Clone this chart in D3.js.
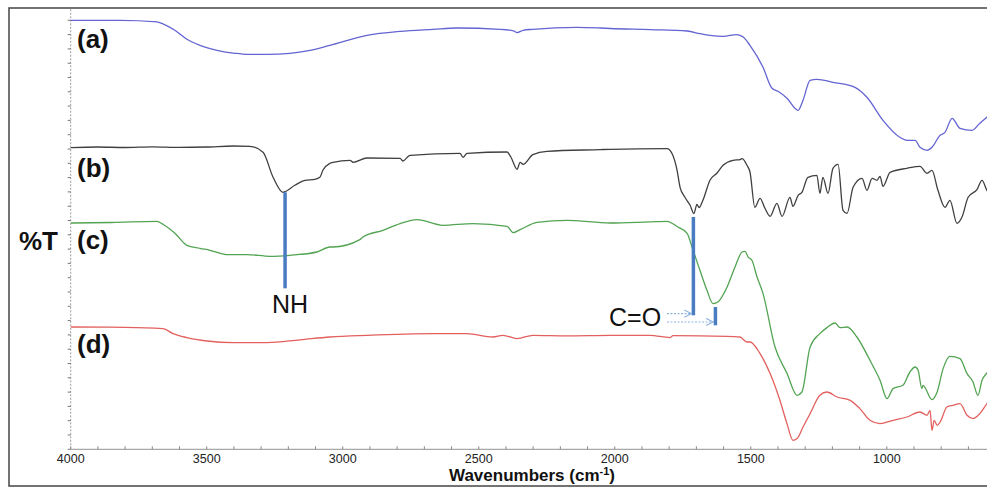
<!DOCTYPE html>
<html>
<head>
<meta charset="utf-8">
<script src="https://cdn.jsdelivr.net/npm/d3@7"></script>
<style>
  body { margin: 0; background: #fff; }
  svg { display: block; }
</style>
</head>
<body>
<svg id="chart" width="987" height="487"></svg>
<script>
// FTIR spectra, offset transmittance (arbitrary units) against wavenumber (cm-1)
const spectrumA = [
  [4000,429],[3819,429],[3683,427.5],[3661,425.5],[3617,419],[3573,410],[3525,404],[3462,399],
  [3396,396],[3352,395],[3278,395],[3194,396],[3120,399],[3047,404],[2911,414],[2789,418],
  [2668,420],[2580,421.3],[2422,420],[2372,418.5],[2359,416.7],[2337,419],[2301,420],[2139,422],
  [2054,421.3],[2017,420.8],[1870,419.7],[1734,418.3],[1687,415.7],[1650,414],[1602,413],
  [1551,414.7],[1540,414],[1529,412.5],[1503,404],[1455,382],[1422,361],[1400,358],[1367,351],
  [1326,339],[1308,349],[1282,369],[1257,370],[1198,367],[1117,362],[1073,352],[1014,329],
  [952,312],[926,309],[896,309],[878,302],[852,299],[834,302],[804,314],[786,317],[760,331],
  [731,321],[687,319],[658,326],[620,335]
];
const spectrumB = [
  [4000,301.7],[3900,302.3],[3800,301.8],[3700,302.5],[3600,301.9],[3500,302.3],[3403,303.3],
  [3341,303],[3293,297],[3256,272],[3220,257],[3176,264],[3139,269],[3102,270],[3084,272],
  [3073,279],[3047,286],[3036,287],[2973,289],[2962,287],[2911,291.3],[2789,291],[2779,288.3],
  [2753,294],[2569,296],[2558,292],[2543,296],[2396,297.3],[2382,292.3],[2359,280],[2348,287],
  [2337,285],[2301,294.7],[2249,298],[2054,299.7],[2017,300],[1808,300.7],[1790,296],[1771,279],
  [1760,262],[1742,252],[1723,244],[1709,235.7],[1698,245],[1690,241.7],[1676,249],[1650,269],
  [1624,276.3],[1602,284],[1565,289],[1540,289.7],[1532,290.7],[1514,284],[1503,277.3],
  [1485,242],[1466,251],[1448,241],[1429,233],[1404,246],[1385,233],[1356,252],[1345,243],
  [1326,254],[1312,257],[1290,272],[1257,274],[1246,256],[1235,272],[1216,256],[1198,281],
  [1179,285],[1161,239],[1146,236],[1124,262],[1091,271],[1073,259],[1054,271],[1036,269],
  [1025,273],[1014,263],[988,277],[926,281],[878,283],[852,276],[834,279],[812,259],[786,242],
  [768,249],[742,226],[724,232],[701,252],[668,260],[650,269],[632,259],[620,255]
];
const spectrumC = [
  [4000,226.3],[3850,226.8],[3683,228],[3661,225],[3617,216],[3573,204],[3525,201],[3488,199],
  [3426,194.7],[3352,194.7],[3267,193],[3194,194],[3095,197.3],[3047,202.3],[3036,202.3],
  [2937,209.7],[2926,212.3],[2852,219],[2789,225.7],[2727,229.7],[2632,224],[2521,225.7],
  [2396,223],[2374,216.7],[2348,219.7],[2286,227],[2176,229],[2017,226.3],[1870,227.5],
  [1808,228],[1768,222.3],[1734,216],[1716,202.3],[1687,179],[1661,159],[1639,145.7],
  [1621,147.3],[1587,162.3],[1558,182.3],[1532,197.3],[1521,198],[1510,192.3],[1496,189],
  [1477,172.3],[1455,155.7],[1411,102.3],[1367,76],[1330,54],[1312,57.3],[1282,102.3],
  [1246,115.7],[1220,121.7],[1190,126.3],[1172,121.7],[1146,122.3],[1110,112.3],[1062,89],
  [1025,69],[999,50.7],[977,60.7],[941,64],[915,77.3],[896,82.3],[885,79],[871,60.7],[867,64],
  [834,49.7],[815,57.3],[793,80.7],[768,93],[731,90.7],[705,75.7],[683,67.3],[665,54],
  [650,69],[632,76.3],[620,80]
];
const spectrumD = [
  [4000,122.3],[3800,122],[3661,120.7],[3624,115.7],[3573,111.7],[3499,108.3],[3403,106.7],
  [3278,106.7],[3157,109.5],[3047,112.3],[2911,114],[2668,115.7],[2543,115.7],[2448,112.3],
  [2411,114],[2359,110.7],[2301,114],[2176,113.5],[2017,114],[1870,114],[1797,111.7],
  [1786,113.7],[1587,113],[1540,112.3],[1514,107.3],[1503,107.3],[1466,95.7],[1429,75.7],
  [1393,49],[1367,25.7],[1345,9],[1330,10.7],[1308,22.3],[1282,35.7],[1246,54],[1220,57.3],
  [1183,52.3],[1135,49],[1099,40.7],[1062,29],[1025,25.7],[977,29],[926,32.3],[878,37.3],
  [852,34],[841,39],[834,19],[826,29],[815,24],[804,27.3],[779,42.3],[757,44],[731,45.7],
  [705,34],[683,30.7],[658,35.7],[632,45.7],[620,50]
];

const seriesLabels = ["(a)", "(b)", "(c)", "(d)"];
const seriesColors = ["#6464d2", "#404040", "#52a452", "#e2605e"];
const seriesValues = [spectrumA, spectrumB, spectrumC, spectrumD];
const labelLevels = [401.5, 272.5, 200, 96.5];

const xMajorTicks = [4000, 3500, 3000, 2500, 2000, 1500, 1000];
const xMinorTicks = d3.range(4000, 600, -100);

// band assignment bars: wavenumber, upper and lower value
const bandBars = [
  { wn: 3212, from: 257, to: 161 },
  { wn: 1711, from: 232.3, to: 134 },
  { wn: 1630, from: 142.3, to: 124 }
];
const bandLabels = [
  { text: "NH", wn: 3260, level: 136 },
  { text: "C=O", wn: 2021, level: 123 }
];
const bandArrows = [
  { fromWn: 1808, toWn: 1718, level: 135.7 },
  { fromWn: 1808, toWn: 1638, level: 127.3 }
];

const svg = d3.select("#chart");
const W = 987;
const plotLeft = 70.7, plotBottom = 449.3, plotTop = 9.3;

const x = d3.scaleLinear().domain([4000, 631.7]).range([plotLeft, W]);
const y = d3.scaleLinear().domain([0, 440]).range([plotBottom, plotTop]);

const defs = svg.append("defs");

// outer frame
svg.append("rect")
  .attr("x", 9).attr("y", 8).attr("width", W + 20).attr("height", 478)
  .attr("fill", "none").attr("stroke", "#505050").attr("stroke-width", 1.6);

defs.append("clipPath").attr("id", "plot-clip")
  .append("rect").attr("x", plotLeft).attr("y", 0).attr("width", W - plotLeft).attr("height", plotBottom);

// x axis
const xAxisG = svg.append("g").attr("transform", `translate(0,${plotBottom})`);
xAxisG.append("line").attr("x1", plotLeft).attr("x2", W).attr("stroke", "#a8a8a8").attr("stroke-width", 1.2);
xAxisG.selectAll("line.minor").data(xMinorTicks).join("line")
  .attr("class", "minor")
  .attr("x1", d => x(d)).attr("x2", d => x(d))
  .attr("y1", 0).attr("y2", -3)
  .attr("stroke", "#888").attr("stroke-width", 1);
xAxisG.selectAll("text").data(xMajorTicks).join("text")
  .attr("x", d => x(d)).attr("y", 14.2)
  .attr("text-anchor", "middle")
  .attr("font-family", "'Liberation Sans', Arial, sans-serif")
  .attr("font-size", 12.5).attr("fill", "#222")
  .text(d => d);

// y axis (no labels, only tick marks)
const yAxisG = svg.append("g").attr("transform", `translate(${plotLeft},0)`);
yAxisG.append("line").attr("y1", y(440)).attr("y2", plotBottom)
  .attr("stroke", "#9a9a9a").attr("stroke-width", 1).attr("stroke-dasharray", "2,1.5");
yAxisG.selectAll("line.tick").data(d3.range(0, 440, 14.3)).join("line")
  .attr("class", "tick")
  .attr("x1", 0).attr("x2", -3)
  .attr("y1", d => y(d)).attr("y2", d => y(d))
  .attr("stroke", "#777").attr("stroke-width", 1);

// axis titles
svg.append("text")
  .attr("x", 532).attr("y", 481)
  .attr("text-anchor", "middle")
  .attr("font-family", "'Liberation Sans', Arial, sans-serif").attr("font-weight", "bold")
  .attr("font-size", 17).attr("fill", "#111")
  .call(t => {
    t.append("tspan").text("Wavenumbers (cm");
    t.append("tspan").attr("dy", -6).attr("font-size", 11).text("-1");
    t.append("tspan").attr("dy", 6).text(")");
  });
svg.append("text")
  .attr("x", 19).attr("y", 250)
  .attr("font-family", "'Liberation Sans', Arial, sans-serif").attr("font-weight", "bold")
  .attr("font-size", 26).attr("fill", "#111")
  .text("%T");

// spectra
const line = d3.line()
  .x(d => x(d[0])).y(d => y(d[1]))
  .curve(d3.curveMonotoneX);

const plot = svg.append("g").attr("clip-path", "url(#plot-clip)");
plot.selectAll("path.spectrum").data(seriesValues).join("path")
  .attr("class", "spectrum")
  .attr("d", line)
  .attr("fill", "none")
  .attr("stroke", (d, i) => seriesColors[i])
  .attr("stroke-width", 1.3)
  .attr("stroke-linejoin", "round");

// series labels
svg.selectAll("text.series").data(seriesLabels).join("text")
  .attr("class", "series")
  .attr("x", 77).attr("y", (d, i) => y(labelLevels[i]))
  .attr("font-family", "'Liberation Sans', Arial, sans-serif").attr("font-weight", "bold")
  .attr("font-size", 26).attr("fill", "#111")
  .text(d => d);

// band assignments
const bandColor = "#4a7cc2";
svg.selectAll("line.band").data(bandBars).join("line")
  .attr("class", "band")
  .attr("x1", d => x(d.wn)).attr("x2", d => x(d.wn))
  .attr("y1", d => y(d.from)).attr("y2", d => y(d.to))
  .attr("stroke", bandColor).attr("stroke-width", 3.5);

svg.selectAll("text.band").data(bandLabels).join("text")
  .attr("class", "band")
  .attr("x", d => x(d.wn)).attr("y", d => y(d.level))
  .attr("font-family", "'Liberation Sans', Arial, sans-serif")
  .attr("font-size", 25).attr("fill", "#111")
  .text(d => d.text);

defs.append("marker")
  .attr("id", "open-arrow")
  .attr("viewBox", "0 0 10 10").attr("refX", 9).attr("refY", 5)
  .attr("markerWidth", 9).attr("markerHeight", 9)
  .attr("markerUnits", "userSpaceOnUse")
  .attr("orient", "auto")
  .append("path").attr("d", "M1,1 L9,5 L1,9")
  .attr("fill", "none").attr("stroke", "#8fb3df").attr("stroke-width", 1.2);

svg.selectAll("line.arrow").data(bandArrows).join("line")
  .attr("class", "arrow")
  .attr("x1", d => x(d.fromWn)).attr("x2", d => x(d.toWn))
  .attr("y1", d => y(d.level)).attr("y2", d => y(d.level))
  .attr("stroke", "#8fb3df").attr("stroke-width", 1.1)
  .attr("stroke-dasharray", "2,1.5")
  .attr("marker-end", "url(#open-arrow)");
</script>
</body>
</html>
